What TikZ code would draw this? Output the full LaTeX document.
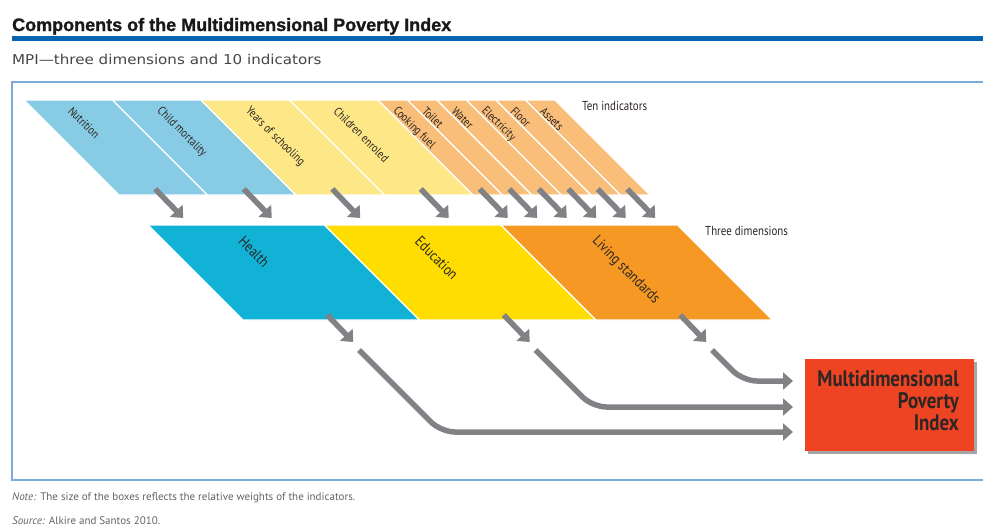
\documentclass[tikz,border=0pt]{standalone}
\usepackage{fontspec}
\setmainfont{PT Sans}
\newfontfamily\labfont[FakeStretch=0.84]{PT Sans}
\newfontfamily\ttlfont[FakeBold=1.2]{Liberation Sans}
\newfontfamily\subfont[FakeStretch=1.12]{DejaVu Sans}
\usetikzlibrary{arrows.meta,calc}
\definecolor{titleblue}{RGB}{8,100,176}
\definecolor{framecol}{RGB}{125,170,220}
\definecolor{arrowgray}{RGB}{128,130,133}
\definecolor{indH}{RGB}{135,203,229}
\definecolor{indE}{RGB}{253,231,134}
\definecolor{indL}{RGB}{249,190,122}
\definecolor{dimH}{RGB}{17,178,214}
\definecolor{dimE}{RGB}{255,221,0}
\definecolor{dimL}{RGB}{246,153,36}
\definecolor{mpired}{RGB}{238,68,36}
\definecolor{textdark}{RGB}{45,38,35}
\definecolor{subgray}{RGB}{70,70,70}
\definecolor{notegray}{RGB}{100,100,100}
\tikzset{
  para/.style={draw=white, line width=1.3pt},
  indlab/.style={rotate=-45, anchor=west, inner sep=0pt, text=textdark,
    font=\labfont\fontsize{12}{14}\selectfont},
  dimlab/.style={rotate=-45, anchor=west, inner sep=0pt, text=textdark,
    font=\labfont\fontsize{15}{17}\selectfont},
  rowlab/.style={anchor=base west, inner sep=0pt, text=textdark,
    font=\labfont\fontsize{13}{15}\selectfont},
  garrow/.style={draw=arrowgray, line width=5.5pt,
    -{Triangle[width=17pt,length=10pt]}},
  longarrow/.style={garrow, rounded corners=14pt},
  notetext/.style={anchor=base west, inner sep=0pt, text=notegray,
    font=\fontsize{11}{13}\selectfont},
}
\begin{document}
\begin{tikzpicture}[x=1pt,y=-1pt]
\useasboundingbox (0,0) rectangle (983,528);
% title
\node[anchor=base west, inner sep=0pt, text=black!90,
  font=\ttlfont\bfseries\fontsize{18}{20}\selectfont] (title) at (12,31)
  {Components of the Multidimensional Poverty Index};
\fill[titleblue] (12,36) rectangle (995,41);
\node[anchor=base west, inner sep=0pt, text=subgray,
  font=\subfont\fontsize{13.5}{15}\selectfont] (subtitle) at (12,64)
  {MPI—three dimensions and 10 indicators};
% frame
\draw[framecol, line width=1.5pt] (995,82) -- (12,82) -- (12,480) -- (995,480);
% indicator row
\foreach \x/\w/\c/\t/\n in {
  24/88.5/indH/Nutrition/nut,
  112.5/88.5/indH/Child mortality/cmo,
  201/88.5/indE/Years of schooling/yrs,
  289.5/88.5/indE/Children enroled/enr,
  378/29.5/indL/Cooking fuel/ckf,
  407.5/29.5/indL/Toilet/toi,
  437/29.5/indL/Water/wat,
  466.5/29.5/indL/Electricity/ele,
  496/29.5/indL/Floor/flo,
  525.5/29.5/indL/Assets/ass}{
  \filldraw[para, fill=\c] (\x,100) -- ++(\w,0) -- ++(95,95) -- ++(-\w,0) -- cycle;
  \node[indlab] (\n) at (\x+\w/2+2,109) {\t};
}
\foreach \x/\w/\n in {
  24/88.5/nut, 112.5/88.5/cmo, 201/88.5/yrs, 289.5/88.5/enr,
  378/29.5/ckf, 407.5/29.5/toi, 437/29.5/wat, 466.5/29.5/ele,
  496/29.5/flo, 525.5/29.5/ass}{
  \coordinate (\n-s) at (\x+\w/2+95-8,189);
  \coordinate (\n-e) at (\x+\w/2+95-8+28,218);
  \draw[garrow] (\n-s) -- (\n-e);
}
\node[rowlab] (tenind) at (582,110) {Ten indicators};
% dimension row
\foreach \x/\c/\t/\n in {
  148/dimH/Health/hea,
  324.5/dimE/Education/edu,
  501/dimL/Living standards/liv}{
  \filldraw[para, fill=\c] (\x,225) -- ++(176.5,0) -- ++(95,95) -- ++(-176.5,0) -- cycle;
  \node[dimlab] (\n) at (\x+88.25+5,239) {\t};
  \coordinate (\n-s) at (\x+88.25+95-4,315);
  \coordinate (\n-e) at (\x+88.25+95-4+26,342);
  \draw[garrow] (\n-s) -- (\n-e);
}
\node[rowlab] (threedim) at (705,235) {Three dimensions};
% MPI box
\fill[black!35] (808,362) rectangle (977,454);
\node[fill=mpired, minimum width=169pt, minimum height=92pt, inner sep=0pt,
  anchor=north west] (mpi) at (805,359) {};
\node[anchor=north east, inner sep=0pt, align=right, text=textdark,
  font=\labfont\bfseries\fontsize{22.5}{22}\selectfont] (mpitext) at (959,370)
  {Multidimensional\\Poverty\\Index};
% long arrows
\coordinate (hea-l) at (359,350);
\coordinate (hea-b) at (441,432);
\coordinate (hea-t) at (793,432);
\coordinate (edu-l) at (535.5,350);
\coordinate (edu-b) at (592.5,407);
\coordinate (edu-t) at (793,407);
\coordinate (liv-l) at (712,350);
\coordinate (liv-b) at (743,381);
\coordinate (liv-t) at (793,381);
\draw[longarrow] (hea-l) -- (hea-b) -- (hea-t);
\draw[longarrow] (edu-l) -- (edu-b) -- (edu-t);
\draw[longarrow] (liv-l) -- (liv-b) -- (liv-t);
% notes
\node[notetext] (note) at (12,500) {\textit{Note:} The size of the boxes reflects the relative weights of the indicators.};
\node[notetext] (source) at (12,524) {\textit{Source:} Alkire and Santos 2010.};
\end{tikzpicture}
\end{document}
